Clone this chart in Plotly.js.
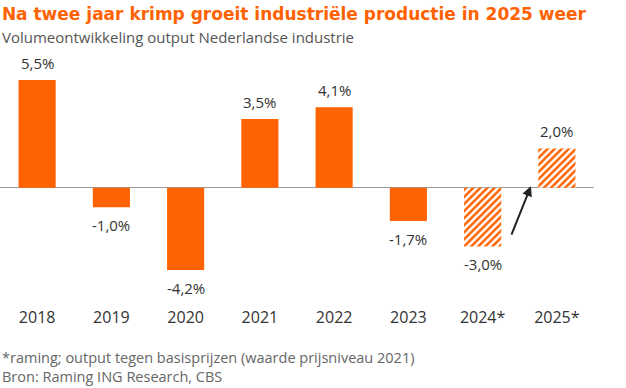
<!DOCTYPE html>
<html>
<head>
<meta charset="utf-8">
<script src="https://cdn.plot.ly/plotly-3.0.1.min.js"></script>
<style>
  html, body { margin: 0; padding: 0; background: #fff; }
  #chart { width: 626px; height: 388px; }
</style>
</head>
<body>
<div id="chart"></div>
<script>
// ---- data ----
const years = ['2018', '2019', '2020', '2021', '2022', '2023', '2024*', '2025*'];
const growth = [5.5, -1.0, -4.2, 3.5, 4.1, -1.7, -3.0, 2.0];
const forecast = [false, false, false, false, false, false, true, true];

const titleText = 'Na twee jaar krimp groeit industriële productie in 2025 weer';
const subtitleText = 'Volumeontwikkeling output Nederlandse industrie';
const noteText = '*raming; output tegen basisprijzen (waarde prijsniveau 2021)';
const sourceText = 'Bron: Raming ING Research, CBS';

const ORANGE = '#FF6200';
const FONT = '"Open Sans", Roboto, sans-serif';
const TITLE_FONT = '"DejaVu Sans", "Open Sans", sans-serif';

const fmt = v => v.toFixed(1).replace('.', ',') + '%';

const trace = {
  type: 'bar',
  x: years,
  y: growth,
  width: 0.5,
  marker: {
    color: ORANGE,
    line: { width: 0 },
    pattern: {
      shape: forecast.map(f => f ? '/' : ''),
      fillmode: 'replace',
      fgcolor: ORANGE,
      bgcolor: '#ffffff',
      fgopacity: 1,
      size: 5,
      solidity: 0.5
    }
  },
  hoverinfo: 'skip'
};

// category index positions (numeric) so year-like labels are not read as numbers
const valueLabels = years.map((yr, i) => ({
  x: i, y: growth[i], xref: 'x', yref: 'y',
  text: fmt(growth[i]),
  showarrow: false,
  xanchor: 'center', yanchor: 'middle',
  yshift: growth[i] >= 0 ? 17 : -18,
  font: { family: FONT, size: 15, color: '#333333' }
}));

// y pixel helper in paper coords (plot area from 60 to 306 px)
const py = p => (306 - p) / 246;

const textNotes = [
  { text: subtitleText, x: 0, y: py(37), size: 15, color: '#555555' },
  { text: noteText, x: 0, y: py(357.5), size: 14.5, color: '#666666' },
  { text: sourceText, x: 0, y: py(376), size: 14.5, color: '#666666' }
].map(n => ({
  xref: 'paper', yref: 'paper', x: n.x, y: n.y,
  xanchor: 'left', yanchor: 'middle', showarrow: false,
  text: n.text, font: { family: FONT, size: n.size, color: n.color }
}));

// arrow from the 2024 forecast towards 2025
const arrow = {
  xref: 'x', yref: 'y', x: 6.65, y: 0.08,
  axref: 'pixel', ayref: 'pixel', ax: -20, ay: 50,
  showarrow: true, arrowhead: 2, arrowsize: 1, arrowwidth: 2,
  arrowcolor: '#222222', text: '', standoff: 0
};

const layout = {
  width: 626, height: 388,
  margin: { l: 0, r: 32, t: 60, b: 82, pad: 0 },
  paper_bgcolor: '#ffffff', plot_bgcolor: '#ffffff',
  showlegend: false,
  bargap: 0.5,
  title: {
    text: titleText,
    font: { family: TITLE_FONT, size: 17, color: ORANGE, weight: 700 },
    x: 0.003, xref: 'container', xanchor: 'left',
    y: 1 - 14 / 388, yref: 'container', yanchor: 'middle'
  },
  xaxis: {
    type: 'category',
    range: [-0.5, 7.5],
    showgrid: false, zeroline: false, showline: false,
    ticks: '', ticklen: 0,
    tickfont: { family: FONT, size: 16, color: '#333333' },
    fixedrange: true
  },
  yaxis: {
    range: [-6.036, 6.515],
    showgrid: false, showticklabels: false, ticks: '',
    zeroline: true, zerolinecolor: '#9a9a9a', zerolinewidth: 1.5,
    showline: false, fixedrange: true
  },
  annotations: valueLabels.concat(textNotes, [arrow]),
  font: { family: FONT }
};

Plotly.newPlot('chart', [trace], layout, { displayModeBar: false, staticPlot: true });
</script>
</body>
</html>
